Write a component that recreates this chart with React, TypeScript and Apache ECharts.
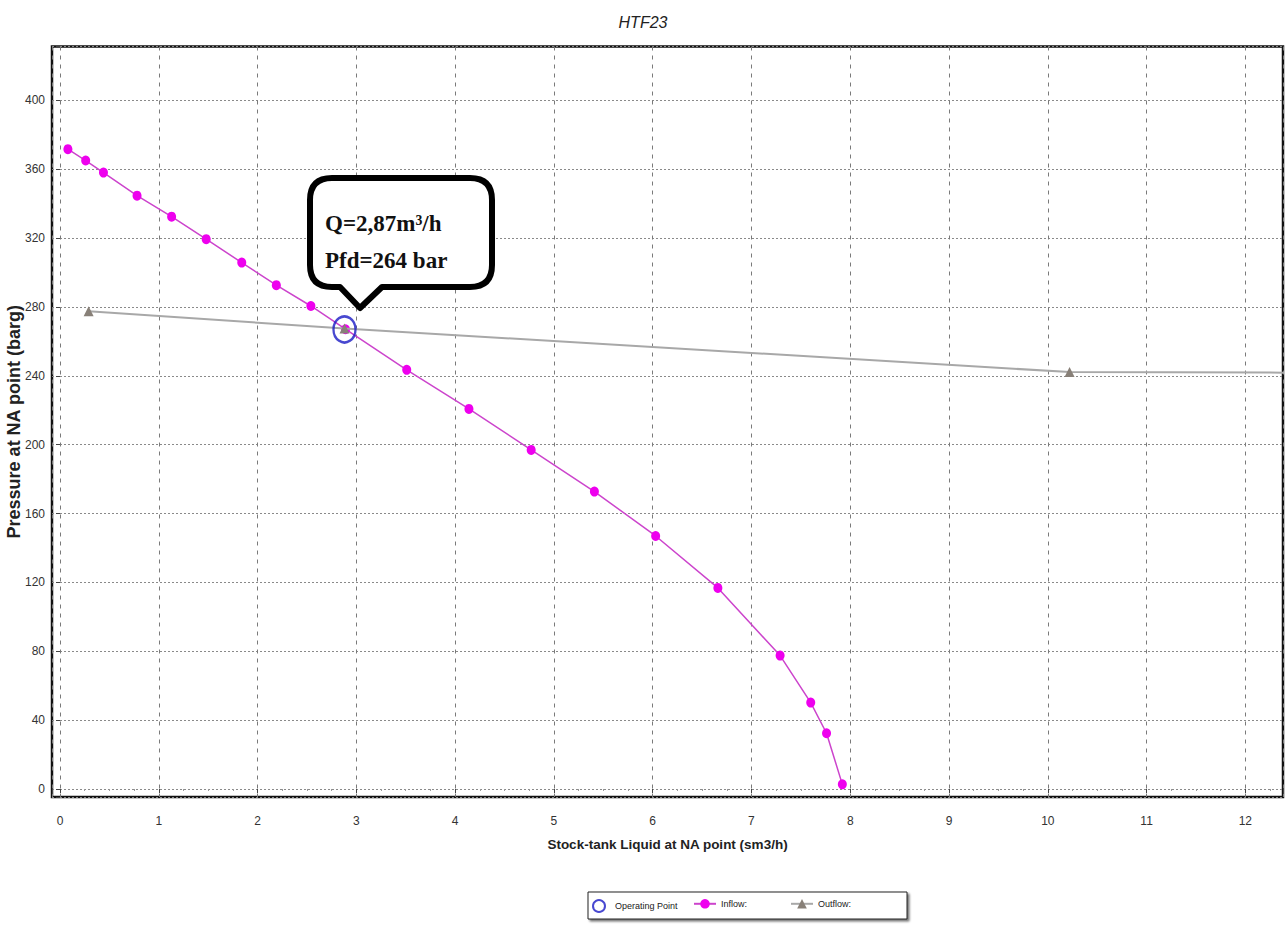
import React, { useEffect, useRef } from 'react';
import * as echarts from 'echarts';

// ---- data ----
const chartTitle = 'HTF23';
const xAxisName = 'Stock-tank Liquid at NA point (sm3/h)';
const yAxisName = 'Pressure at NA point (barg)';
const seriesNames = ['Operating Point', 'Inflow:', 'Outflow:'];

const inflowX = [0.08, 0.26, 0.44, 0.78, 1.13, 1.48, 1.84, 2.19, 2.54, 2.89, 3.51, 4.14, 4.77, 5.41, 6.03, 6.66, 7.29, 7.6, 7.76, 7.92];
const inflowY = [371.7, 365.1, 358.1, 344.7, 332.5, 319.4, 305.8, 292.7, 280.6, 267.1, 243.5, 220.8, 197.0, 172.8, 147.0, 116.8, 77.5, 50.2, 32.4, 2.7];

const outflowX = [0.29, 2.88, 10.22, 13.0];
const outflowY = [277.5, 267.5, 242.2, 241.8];

const operatingX = [2.88];
const operatingY = [267];

const calloutLines = ['Q=2,87m³/h', 'Pfd=264 bar'];

const xRange = [-0.081, 12.381];
const yRange = [-4.65, 431.35];
const xStep = 1;
const yStep = 40;

// ---- callout shape ----
const calloutPath =
  'M 22 0 L 160 0 Q 182 0 182 22 L 182 87 Q 182 109 160 109 L 72 109 L 50 130 L 30 109 L 22 109 Q 0 109 0 87 L 0 22 Q 0 0 22 0 Z';
echarts.graphic.registerShape('callout', echarts.graphic.extendPath(calloutPath, {}));

const sans = '"Liberation Sans Narrow", "Liberation Sans", Arial, sans-serif';
const sansWide = '"Liberation Sans", Arial, sans-serif';
const serif = '"Liberation Serif", "Times New Roman", serif';

const zip = (xs: number[], ys: number[]) => xs.map((x, i) => [x, ys[i]]);
const legendLefts = [592, 693, 790];

export default function App() {
  const ref = useRef<HTMLDivElement>(null);

  useEffect(() => {
    if (!ref.current) return;
    const chart = echarts.init(ref.current, null, { renderer: 'svg' });
    const legends = seriesNames.map((name, i) => ({
      left: legendLefts[i],
      top: 899,
      orient: 'horizontal',
      data: [name],
      itemWidth: 22,
      itemHeight: 12,
      padding: 0,
      z: 10,
      selectedMode: false,
      textStyle: { fontFamily: sans, fontSize: 9, color: '#222' },
    }));
    const option: any = {
      animation: false,
      backgroundColor: '#ffffff',
      title: {
        text: chartTitle,
        left: 'center',
        top: 9,
        textStyle: {
          fontFamily: sansWide,
          fontStyle: 'italic',
          fontWeight: 'normal',
          fontSize: 16,
          color: '#222',
        },
      },
      grid: {
        left: 52,
        right: 3,
        top: 46.5,
        bottom: 128,
        show: true,
        borderColor: '#111',
        borderWidth: 2.5,
        containLabel: false,
        outerBoundsMode: 'none',
      },
      xAxis: {
        type: 'value',
        min: xRange[0],
        max: xRange[1],
        minInterval: xStep,
        maxInterval: xStep,
        name: xAxisName,
        nameLocation: 'middle',
        nameGap: 40,
        nameMoveOverlap: false,
        nameTextStyle: { fontFamily: sansWide, fontWeight: 'bold', fontSize: 13.5, color: '#222' },
        axisLine: { show: false },
        axisTick: { show: true, length: 4, lineStyle: { color: '#444' } },
        minorTick: { show: true, splitNumber: 4, length: 2, lineStyle: { color: '#999' } },
        minorSplitLine: { show: false },
        axisLabel: {
          margin: 18,
          fontFamily: sans,
          fontSize: 12,
          color: '#333',
          formatter: (v: number) => (Math.abs(v / xStep - Math.round(v / xStep)) < 1e-6 ? String(Math.round(v)) : ''),
        },
        splitLine: { show: true, lineStyle: { color: '#7a7a7a', type: [4, 5], width: 1 } },
      },
      yAxis: {
        type: 'value',
        min: yRange[0],
        max: yRange[1],
        minInterval: yStep,
        maxInterval: yStep,
        name: yAxisName,
        nameLocation: 'middle',
        nameGap: 29,
        nameMoveOverlap: false,
        nameTextStyle: { fontFamily: sansWide, fontWeight: 'bold', fontSize: 18, color: '#222' },
        axisLine: { show: false },
        axisTick: { show: true, length: 4, lineStyle: { color: '#444' } },
        axisLabel: {
          margin: 7,
          fontFamily: sans,
          fontSize: 12,
          color: '#333',
          formatter: (v: number) => (Math.abs(v / yStep - Math.round(v / yStep)) < 1e-6 ? String(Math.round(v)) : ''),
        },
        splitLine: { show: true, lineStyle: { color: '#8a8a8a', type: [2, 2], width: 1.2 } },
      },
      legend: legends,
      series: [
        {
          name: seriesNames[1],
          type: 'line',
          data: zip(inflowX, inflowY),
          symbol: 'circle',
          symbolSize: [9, 10],
          showAllSymbol: true,
          z: 3,
          lineStyle: { color: '#cc44cc', width: 1.5 },
          itemStyle: { color: '#ee00ee' },
        },
        {
          name: seriesNames[2],
          type: 'line',
          data: zip(outflowX, outflowY),
          symbol: 'triangle',
          symbolSize: 10,
          showAllSymbol: true,
          z: 4,
          lineStyle: { color: '#a8a8a8', width: 2 },
          itemStyle: { color: '#888078' },
        },
        {
          name: seriesNames[0],
          type: 'scatter',
          data: zip(operatingX, operatingY),
          symbol: 'circle',
          symbolSize: [22, 26],
          z: 5,
          itemStyle: { color: 'rgba(255,255,255,0)', borderColor: '#1a1ac4', borderWidth: 2.5 },
        },
      ],
      graphic: [
        {
          type: 'rect',
          z: 1,
          shape: { x: 588, y: 892, width: 319, height: 27 },
          style: {
            fill: '#ffffff',
            stroke: '#222',
            lineWidth: 1,
            shadowColor: 'rgba(0,0,0,0.55)',
            shadowBlur: 2,
            shadowOffsetX: 2,
            shadowOffsetY: 2,
          },
        },
        {
          type: 'callout',
          x: 310,
          y: 178,
          z: 100,
          style: { fill: '#ffffff', stroke: '#000000', lineWidth: 6, lineJoin: 'round' },
        },
        {
          type: 'text',
          x: 325,
          y: 223,
          z: 101,
          style: {
            text: calloutLines[0],
            fontFamily: serif,
            fontSize: 23,
            fontWeight: 'bold',
            fill: '#111',
            verticalAlign: 'middle',
          },
        },
        {
          type: 'text',
          x: 325,
          y: 260,
          z: 101,
          style: {
            text: calloutLines[1],
            fontFamily: serif,
            fontSize: 23,
            fontWeight: 'bold',
            fill: '#111',
            verticalAlign: 'middle',
          },
        },
      ],
    };
    chart.setOption(option);
    return () => {
      chart.dispose();
    };
  }, []);

  return (
    <div
      ref={ref}
      style={{ position: 'absolute', left: 0, top: 0, width: 1286, height: 925, background: '#fff' }}
    />
  );
}
